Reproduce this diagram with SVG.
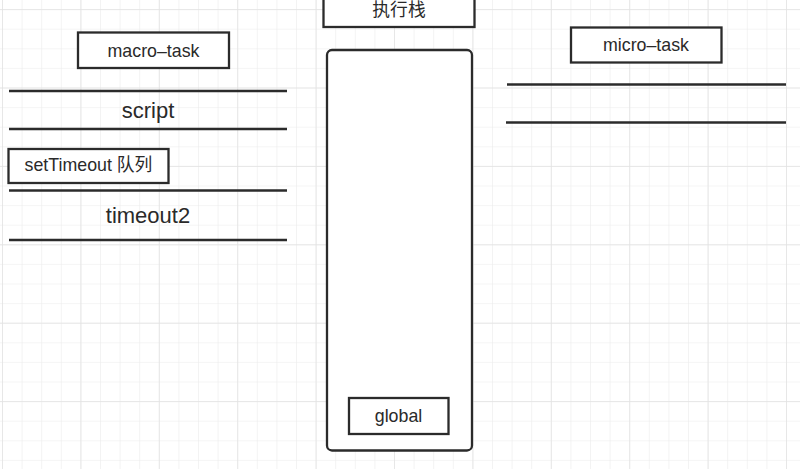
<svg xmlns="http://www.w3.org/2000/svg" width="800" height="469" viewBox="0 0 800 469">
<defs>
<pattern id="minor" x="2" y="9.1" width="19.6" height="19.6" patternUnits="userSpaceOnUse">
<path d="M0 0V19.6M0 0H19.6" fill="none" stroke="#ececec" stroke-width="1.2"/>
</pattern>
<pattern id="major" x="2" y="9.1" width="78.4" height="78.4" patternUnits="userSpaceOnUse">
<path d="M0 0V78.4M0 0H78.4" fill="none" stroke="#e2e2e2" stroke-width="1.4"/>
</pattern>
</defs>
<style>
.box{fill:#fff;stroke:#2b2b2b;stroke-width:2.3}
.line{stroke:#2b2b2b;stroke-width:2.5}
.t{font-family:"Liberation Sans","Noto Sans CJK SC",sans-serif;fill:#2a2a2a;text-anchor:middle;font-size:17.8px}
.big{font-size:22px}
</style>
<rect width="800" height="469" fill="#fff"/>
<rect width="800" height="469" fill="url(#minor)"/>
<rect width="800" height="469" fill="url(#major)"/>

<g id="connectors">
<line class="line" x1="9" y1="91" x2="287" y2="91"/>
<line class="line" x1="9" y1="129" x2="287" y2="129"/>
<line class="line" x1="9" y1="190.5" x2="287" y2="190.5"/>
<line class="line" x1="9" y1="240" x2="287" y2="240"/>
<line class="line" x1="507" y1="84.5" x2="786" y2="84.5"/>
<line class="line" x1="506" y1="122.5" x2="786" y2="122.5"/>
</g>

<g id="exec-stack-label">
<rect class="box" x="323.5" y="-3" width="151" height="30"/>
<text class="t" x="399" y="16">执行栈</text>
</g>
<g id="exec-stack">
<rect class="box" x="327" y="50" width="145" height="400.5" rx="5"/>
</g>
<g id="global">
<rect class="box" x="349" y="398" width="99.5" height="36"/>
<text class="t" x="398.5" y="422">global</text>
</g>
<g id="macro-task">
<rect class="box" x="78" y="32.5" width="151" height="35.5"/>
<text class="t" x="153.5" y="57">macro–task</text>
</g>
<g id="script">
<text class="t big" x="148" y="118">script</text>
</g>
<g id="setTimeout-queue">
<rect class="box" x="8.5" y="149" width="160" height="34"/>
<text class="t" x="88.5" y="171">setTimeout 队列</text>
</g>
<g id="timeout2">
<text class="t big" x="148" y="223">timeout2</text>
</g>
<g id="micro-task">
<rect class="box" x="571" y="27.5" width="150.5" height="35"/>
<text class="t" x="646" y="51">micro–task</text>
</g>
</svg>
